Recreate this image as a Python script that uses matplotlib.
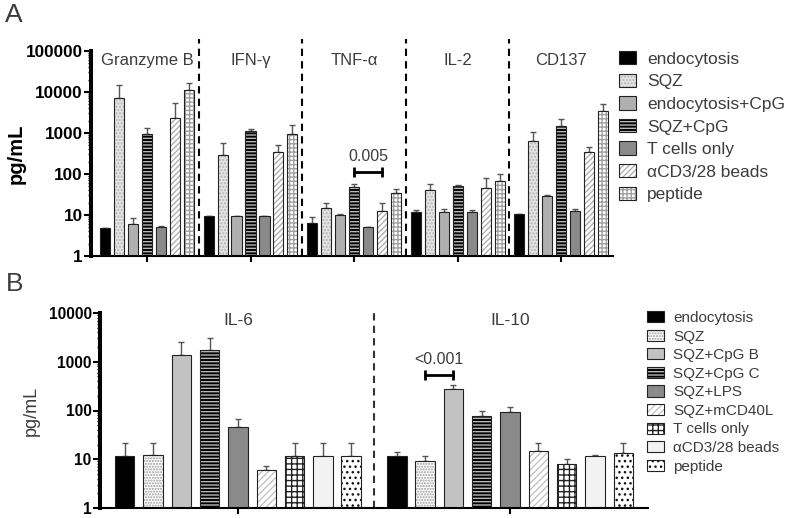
"""
Cytokine release bar charts (panel A: T cell readouts, panel B: IL-6 / IL-10)
"""

import numpy as np
import matplotlib
matplotlib.use('Agg')
import matplotlib.pyplot as plt
import matplotlib.ticker as mticker
from matplotlib.patches import Patch

plt.rcParams['font.family'] = ['Liberation Sans', 'DejaVu Sans']
plt.rcParams['hatch.linewidth'] = 1.0

# ---- panel A data ----
groups_a = ['Granzyme B', 'IFN-γ', 'TNF-α', 'IL-2', 'CD137']
conds_a = ['endocytosis', 'SQZ', 'endocytosis+CpG', 'SQZ+CpG',
           'T cells only', 'αCD3/28 beads', 'peptide']

# mean values, one list per condition (order of groups_a)
a_endo = [4.8, 9.5, 6.5, 12, 10.5]
a_sqz = [7000, 290, 14.5, 40, 650]
a_endo_cpg = [6.1, 9.5, 10, 12, 29.5]
a_sqz_cpg = [950, 1100, 47, 52, 1500]
a_tcells = [5.1, 9.5, 5.1, 12, 12.2]
a_beads = [2300, 350, 12.2, 45, 340]
a_peptide = [11000, 950, 34, 66, 3500]

# top of the error whisker
a_endo_top = [4.8, 9.7, 8.8, 13.3, 10.7]
a_sqz_top = [14500, 580, 19.5, 58, 1060]
a_endo_cpg_top = [8.4, 9.7, 10.3, 13.8, 30]
a_sqz_cpg_top = [1350, 1250, 56, 54, 2200]
a_tcells_top = [5.3, 9.7, 5.2, 13.5, 14.4]
a_beads_top = [5500, 510, 20, 80, 460]
a_peptide_top = [17000, 1600, 43, 100, 5100]

a_vals = [a_endo, a_sqz, a_endo_cpg, a_sqz_cpg, a_tcells, a_beads, a_peptide]
a_tops = [a_endo_top, a_sqz_top, a_endo_cpg_top, a_sqz_cpg_top,
          a_tcells_top, a_beads_top, a_peptide_top]

# significance: (group, cond from, cond to, y, label)
a_sig = (2, 3, 5, 114, '0.005')

# ---- panel B data ----
groups_b = ['IL-6', 'IL-10']
conds_b = ['endocytosis', 'SQZ', 'SQZ+CpG B', 'SQZ+CpG C', 'SQZ+LPS',
           'SQZ+mCD40L', 'T cells only', 'αCD3/28 beads', 'peptide']

b_il6 = [11.5, 12.4, 1350, 1750, 45, 6.0, 11.5, 11.5, 11.5]
b_il6_top = [22, 22, 2500, 3100, 66, 7.4, 22, 22, 22]
b_il10 = [11.5, 9.4, 270, 76, 92, 15, 8.1, 11.5, 13.4]
b_il10_top = [14.3, 11.5, 330, 96, 116, 21.5, 10.1, 12.2, 21.5]

b_sig = (1, 1, 2, 540, '<0.001')

# bar styles: (facecolor, hatch, hatch colour)
styles_a = [
    ('black', None, 'black'),
    ('#e4e4e4', '.....', '#b4b4b4'),
    ('#b0b0b0', None, '#b0b0b0'),
    ('black', '-----', '#b8b8b8'),
    ('#8a8a8a', None, '#8a8a8a'),
    ('white', '//////', '#b0b0b0'),
    ('white', '++++', '#a0a0a0'),
]
styles_b = [
    ('black', None, 'black'),
    ('white', '......', '#9a9a9a'),
    ('#c2c2c2', None, '#c2c2c2'),
    ('black', '-----', '#b8b8b8'),
    ('#8a8a8a', None, '#8a8a8a'),
    ('white', '/////', '#c4c4c4'),
    ('white', '+++', '#222222'),
    ('#f2f2f2', None, '#f2f2f2'),
    ('white', '...', '#111111'),
]

TEXT_GRAY = '#3c3c3c'


def draw_panel(ax, vals, tops, styles, pitch, width):
    n = len(vals)
    centers = np.arange(len(vals[0]))
    for i in range(n):
        x = centers + (i - (n - 1) / 2) * pitch
        fc, hatch, hc = styles[i]
        v = np.array(vals[i])
        up = np.array(tops[i]) - v
        ax.errorbar(x, v, yerr=[np.zeros_like(v), up], fmt='none',
                    ecolor='#555555', elinewidth=1.0, capsize=2.5,
                    capthick=1.0, zorder=1)
        ax.bar(x, v, width, color=fc, edgecolor=hc, hatch=hatch,
               linewidth=0, zorder=2)
        ax.bar(x, v, width, fill=False, edgecolor='#222222',
               linewidth=0.8, zorder=3)
    return centers


def bar_x(group, cond, n, pitch):
    return group + (cond - (n - 1) / 2) * pitch


def style_axis(ax, ylim, labelsize):
    ax.set_yscale('log')
    ax.set_ylim(*ylim)
    ax.yaxis.set_major_locator(mticker.LogLocator(base=10, numticks=20))
    ax.yaxis.set_minor_locator(
        mticker.LogLocator(base=10, subs=np.arange(2, 10), numticks=20))
    ax.yaxis.set_minor_formatter(mticker.NullFormatter())
    ax.yaxis.set_major_formatter(mticker.FuncFormatter(lambda v, p: f'{v:.0f}'))
    ax.spines['top'].set_visible(False)
    ax.spines['right'].set_visible(False)
    ax.spines['left'].set_linewidth(2.9)
    ax.spines['bottom'].set_linewidth(1.5)
    ax.tick_params(axis='y', which='major', length=5, width=1.5,
                   labelsize=labelsize, pad=1)
    ax.tick_params(axis='y', which='minor', length=2.5, width=1.0)
    ax.tick_params(axis='x', length=4, width=1.5, labelbottom=False)
    for lab in ax.get_yticklabels():
        lab.set_fontweight('bold')


def legend_handles(styles):
    handles = []
    for fc, hatch, hc in styles:
        fill = Patch(facecolor=fc, edgecolor=hc, hatch=hatch, linewidth=0)
        edge = Patch(fill=False, edgecolor='#222222', linewidth=0.8)
        handles.append((fill, edge))
    return handles


fig = plt.figure(figsize=(7.87, 5.18), dpi=100)

# ---------------- panel A ----------------
axA = fig.add_axes([91 / 787, 1 - 256 / 518, (613 - 91) / 787, 205 / 518])
pitch_a, width_a = 0.135, 0.097
centers_a = draw_panel(axA, a_vals, a_tops, styles_a, pitch_a, width_a)
axA.set_xlim(-0.54, len(groups_a) - 0.5)
style_axis(axA, (1, 100000), 12.3)
axA.set_xticks(centers_a)
for k in range(1, len(groups_a)):
    axA.axvline(k - 0.5, ymin=0, ymax=1.06, color='black', ls=(0, (3.5, 2.5)),
                lw=1.5, clip_on=False, zorder=0)
for k, g in enumerate(groups_a):
    axA.text(k, 0.955, g, transform=axA.get_xaxis_transform(), ha='center',
             va='center', fontsize=12, color=TEXT_GRAY)
axA.set_ylabel('pg/mL', fontsize=14.5, fontweight='bold')
axA.yaxis.set_label_coords(-0.125, 0.5)

g, c0, c1, ysig, lab = a_sig
x0 = bar_x(g, c0, len(conds_a), pitch_a)
x1 = bar_x(g, c1, len(conds_a), pitch_a)
axA.plot([x0, x1], [ysig, ysig], color='black', lw=2, marker='|',
         markersize=7, mew=2, zorder=4)
axA.text((x0 + x1) / 2, ysig * 1.5, lab, ha='center', va='bottom',
         fontsize=11.5, color=TEXT_GRAY)

fig.legend(legend_handles(styles_a), conds_a, loc='upper left',
           bbox_to_anchor=(619 / 787, 1 - 51 / 518), frameon=False,
           borderpad=0, borderaxespad=0, fontsize=12.5, labelcolor=TEXT_GRAY,
           handlelength=1.0, handleheight=0.8, handletextpad=0.6,
           labelspacing=0.40)

# ---------------- panel B ----------------
axB = fig.add_axes([100 / 787, 1 - 508 / 518, (648 - 100) / 787, 195 / 518])
pitch_b, width_b = 0.104, 0.071
centers_b = draw_panel(axB, [list(t) for t in zip(b_il6, b_il10)],
                       [list(t) for t in zip(b_il6_top, b_il10_top)],
                       styles_b, pitch_b, width_b)
axB.set_xlim(-0.507, len(groups_b) - 0.493)
style_axis(axB, (1, 10000), 11.2)
axB.set_xticks(centers_b)
axB.axvline(0.5, color='#333333', ls=(0, (3.5, 2.5)), lw=1.5, zorder=0)
for k, g in enumerate(groups_b):
    axB.text(k, 0.962, g, transform=axB.get_xaxis_transform(), ha='center',
             va='center', fontsize=12.5, color=TEXT_GRAY)
axB.set_ylabel('pg/mL', fontsize=13, color=TEXT_GRAY)
axB.yaxis.set_label_coords(-0.109, 0.5)

g, c0, c1, ysig, lab = b_sig
x0 = bar_x(g, c0, len(conds_b), pitch_b)
x1 = bar_x(g, c1, len(conds_b), pitch_b)
axB.plot([x0, x1], [ysig, ysig], color='black', lw=2, marker='|',
         markersize=7, mew=2, zorder=4)
axB.text((x0 + x1) / 2, ysig * 1.45, lab, ha='center', va='bottom',
         fontsize=11.5, color=TEXT_GRAY)

fig.legend(legend_handles(styles_b), conds_b, loc='upper left',
           bbox_to_anchor=(647 / 787, 1 - 311 / 518), frameon=False,
           borderpad=0, borderaxespad=0, fontsize=11, labelcolor=TEXT_GRAY,
           handlelength=1.1, handleheight=0.75, handletextpad=0.6,
           labelspacing=0.30)

fig.text(0.006, 0.995, 'A', fontsize=19, color=TEXT_GRAY, va='top')
fig.text(0.008, 1 - 272 / 518, 'B', fontsize=19, color=TEXT_GRAY, va='top')

fig.savefig('out.png', dpi=100)
